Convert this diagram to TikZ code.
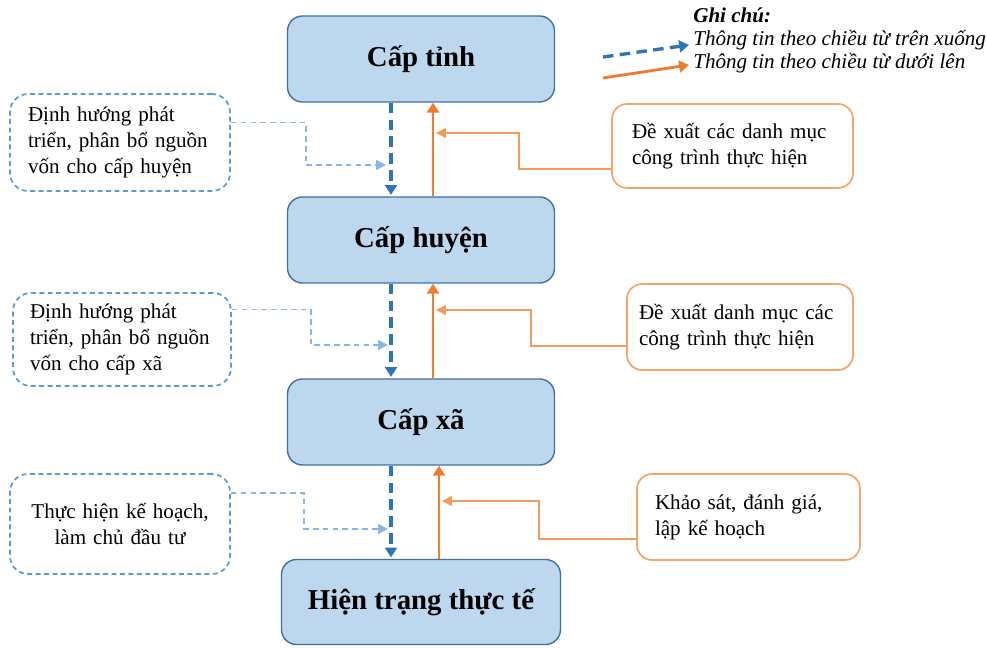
\documentclass[tikz,border=0pt]{standalone}
\usepackage{fontspec}
\setmainfont{Liberation Serif}
\usepackage{xcolor}
\usepackage{tikz}
\usetikzlibrary{arrows.meta}

\begin{document}
\begin{tikzpicture}
\tikzstyle{every node}=[font=\fontsize{15}{18.5}\selectfont]
\tikzstyle{tierbox}=[draw={rgb,255:red,65; green,113; blue,156}, fill={rgb,255:red,189; green,215; blue,238}, line width=1pt, rounded corners=0.375cm, minimum width=6.675cm, minimum height=2.15cm, font=\fontsize{20.5}{24}\selectfont\bfseries]
\tikzstyle{guidebox}=[draw={rgb,255:red,91; green,155; blue,213}, line width=1.2pt, dash pattern=on 3.5pt off 2.5pt, rounded corners=0.45cm, inner xsep=0.45cm, text width=4.6cm, align=left]
\tikzstyle{proposebox}=[draw={rgb,255:red,244; green,165; blue,106}, line width=1.2pt, rounded corners=0.375cm, inner xsep=0.5cm, align=left]
\tikzstyle{downflow}=[draw={rgb,255:red,46; green,117; blue,182}, line width=2.4pt, dash pattern=on 7.5pt off 4.5pt, -{Triangle[length=7pt,width=8.5pt]}, shorten >=1pt]
\tikzstyle{upflow}=[draw={rgb,255:red,237; green,125; blue,49}, line width=2pt, -{Triangle[length=7pt,width=8.5pt]}]
\tikzstyle{guideline}=[draw={rgb,255:red,138; green,182; blue,226}, line width=1pt, dash pattern=on 4pt off 3pt, -{Triangle[length=7pt,width=7pt]}]
\tikzstyle{proposeline}=[draw={rgb,255:red,241; green,155; blue,92}, line width=1.2pt, -{Triangle[length=7pt,width=7pt]}]
\tikzstyle{legendtext}=[anchor=west, inner sep=0pt, font=\fontsize{15}{18.5}\selectfont\itshape]
\useasboundingbox (0,0) rectangle (24.675,16.2);
\node [tierbox] (tinh) at (10.525,14.725) {Cấp tỉnh};
\node [tierbox] (huyen) at (10.525,10.2) {Cấp huyện};
\node [tierbox] (xa) at (10.525,5.65) {Cấp xã};
\node [tierbox, minimum width=6.975cm, minimum height=2.125cm] (thucte) at (10.525,1.15) {Hiện trạng thực tế};
\node [guidebox, minimum height=2.425cm] (dh1) at (3,12.6375) {Định hướng phát\\triển, phân bổ nguồn\\vốn cho cấp huyện};
\node [guidebox, inner xsep=0.425cm, minimum height=2.325cm] (dh2) at (3.05,7.7125) {Định hướng phát\\triển, phân bổ nguồn\\vốn cho cấp xã};
\node [guidebox, align=center, minimum height=2.5cm] (dh3) at (3,3.1) {Thực hiện kế hoạch,\\làm chủ đầu tư};
\node [proposebox, text width=5.025cm, minimum height=2.1cm] (dx1) at (18.3125,12.55) {Đề xuất các danh mục\\công trình thực hiện};
\node [proposebox, inner xsep=0.3cm, text width=5.05cm, minimum height=2.15cm] (dx2) at (18.5,8.025) {Đề xuất danh mục các\\công trình thực hiện};
\node [proposebox, inner xsep=0.45cm, text width=4.675cm, minimum height=2.15cm] (dx3) at (18.7125,3.275) {Khảo sát, đánh giá,\\lập kế hoạch};
\draw [downflow] ([xshift=-0.75cm]tinh.south) -- ([xshift=-0.75cm]huyen.north);
\draw [downflow] ([xshift=-0.75cm]huyen.south) -- ([xshift=-0.75cm]xa.north);
\draw [downflow] ([xshift=-0.75cm]xa.south) -- ([xshift=-0.75cm]thucte.north);
\draw [upflow] ([xshift=0.3cm]huyen.north) -- ([xshift=0.3cm]tinh.south);
\draw [upflow] ([xshift=0.3cm]xa.north) -- ([xshift=0.3cm]huyen.south);
\draw [upflow] ([xshift=0.45cm]thucte.north) -- ([xshift=0.45cm]xa.south);
\coordinate (t1) at (9.65,12.075);
\coordinate (t2) at (9.7,7.575);
\coordinate (t3) at (9.7,2.975);
\draw [guideline] ([yshift=0.5cm]dh1.east) -- ++(1.875,0) |- (t1);
\draw [guideline] ([yshift=0.75cm]dh2.east) -- ++(1.975,0) |- (t2);
\draw [guideline] ([yshift=0.775cm]dh3.east) -- ++(1.825,0) |- (t3);
\coordinate (s1) at (10.9,12.875);
\coordinate (s2) at (10.9,8.45);
\coordinate (s3) at (11.05,3.675);
\draw [proposeline] ([yshift=-0.575cm]dx1.west) -- ++(-2.3,0) |- (s1);
\draw [proposeline] ([yshift=-0.475cm]dx2.west) -- ++(-2.375,0) |- (s2);
\draw [proposeline] ([yshift=-0.55cm]dx3.west) -- ++(-2.425,0) |- (s3);
\node [legendtext, font=\fontsize{15}{18.5}\selectfont\bfseries\itshape] (ghichu) at (17.325,15.825) {Ghi chú:};
\node [legendtext] (leg1) at (17.325,15.2) {Thông tin theo chiều từ trên xuống};
\node [legendtext] (leg2) at (17.325,14.625) {Thông tin theo chiều từ dưới lên};
\coordinate (b0) at (15.075,14.775);
\coordinate (o0) at (15.075,14.25);
\draw [downflow, shorten >=0pt] (b0) -- ([xshift=-0.1cm,yshift=-0.125cm]leg1.west);
\draw [upflow] (o0) -- ([xshift=-0.1cm,yshift=-0.05cm]leg2.west);
\end{tikzpicture}
\end{document}
